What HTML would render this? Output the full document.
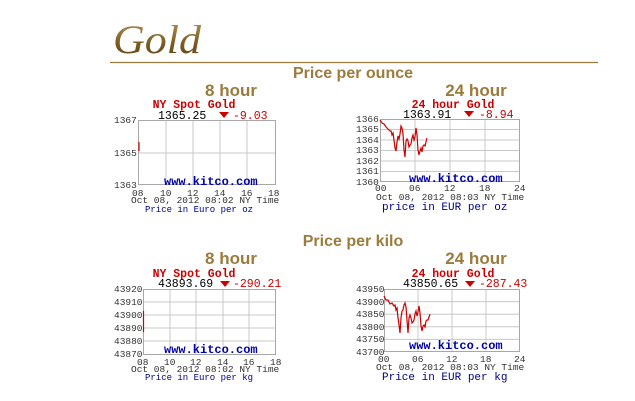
<!DOCTYPE html>
<html><head><meta charset="utf-8"><style>
html,body{margin:0;padding:0;background:#fff;width:635px;height:401px;overflow:hidden}
svg text{font-family:"Liberation Mono",monospace}
.h{font-family:"Liberation Sans",sans-serif;font-weight:bold;fill:#9b7c3c}
.t{fill:#cc0000;font-weight:bold;font-size:11.5px}
.v{fill:#000;font-size:11.5px}
.d{fill:#cc0000;font-size:11.5px}
.y{fill:#333;font-size:9.5px}
.x{fill:#333;font-size:9.5px}
.w{fill:#0000aa;font-weight:bold;font-size:12px}
.p{fill:#000088;font-size:9px}
.p2{fill:#000088;font-size:11px}
.g{stroke:#c8c8c8;stroke-width:1;fill:none}
.b{stroke:#a8a8a8;stroke-width:1;fill:none}
.s{stroke:#cc0000;stroke-width:1.2;fill:none}
</style></head><body>
<svg width="635" height="401" xmlns="http://www.w3.org/2000/svg">
<defs><linearGradient id="gg" x1="0" y1="0" x2="0" y2="1"><stop offset="0" stop-color="#b8985a"/><stop offset="0.6" stop-color="#7a5a22"/><stop offset="1" stop-color="#5a4418"/></linearGradient></defs>
<text x="113" y="53" style="font-family:'Liberation Serif',serif;font-style:italic;font-size:40px;fill:url(#gg)" textLength="88" lengthAdjust="spacingAndGlyphs">Gold</text>
<line x1="110" y1="62.5" x2="598" y2="62.5" stroke="#9b7c3c" stroke-width="1.3"/>

<text class="h" x="353" y="78" font-size="16" text-anchor="middle">Price per ounce</text>
<text class="h" x="231" y="96" font-size="17" text-anchor="middle">8 hour</text>
<text class="h" x="476" y="96" font-size="17" text-anchor="middle">24 hour</text>

<!-- chart 1 -->
<text class="t" x="194" y="108" text-anchor="middle">NY Spot Gold</text>
<text class="v" x="158" y="119">1365.25</text>
<path d="M219 112 l10 0 l-5 6z" fill="#cc0000"/>
<text class="d" x="233" y="119">-9.03</text>
<g class="g"><path d="M166 120V185M193 120V185M220 120V185M247 120V185M138 153H276"/></g>
<rect class="b" x="138.5" y="120.5" width="137" height="64"/>
<text class="y" x="114" y="123">1367</text><text class="y" x="114" y="156">1365</text><text class="y" x="114" y="188">1363</text>
<path class="s" d="M139 142V151"/>
<text class="w" x="164" y="185">www.kitco.com</text>
<g class="x"><text x="132" y="196">08</text><text x="160" y="196">10</text><text x="187" y="196">12</text><text x="214" y="196">14</text><text x="241" y="196">16</text><text x="268" y="196">18</text></g>
<text class="x" x="131" y="203">Oct 08, 2012 08:02 NY Time</text>
<text class="p" x="145" y="212">Price in Euro per oz</text>

<!-- chart 2 -->
<text class="t" x="453" y="108" text-anchor="middle">24 hour Gold</text>
<text class="v" x="403" y="118">1363.91</text>
<path d="M464 111 l10 0 l-5 6z" fill="#cc0000"/>
<text class="d" x="479" y="118">-8.94</text>
<g class="g"><path d="M415 119V182M450 119V182M485 119V182M380 129.5H520M380 140H520M380 150.5H520M380 161H520M380 171.5H520"/></g>
<rect class="b" x="380.5" y="119.5" width="139" height="62"/>
<g class="y"><text x="356" y="122">1366</text><text x="356" y="132">1365</text><text x="356" y="143">1364</text><text x="356" y="153">1363</text><text x="356" y="164">1362</text><text x="356" y="174">1361</text><text x="356" y="185">1360</text></g>
<path class="s" d="M380 120L382 123L384 124L386 127L388 129L390 131L391 131L392 135L393 133L394 140L395 148L396 151L397 142L398 136L399 139L400 134L401 126L402 128L403 134L404 150L405 157L406 141L407 139L408 141L409 147L410 145L411 144L412 138L413 135L414 140L415 137L416 128L417 135L418 150L419 155L420 151L421 148L422 152L423 146L424 145L425 146L426 142L427 138"/>
<text class="w" x="409" y="182">www.kitco.com</text>
<g class="x"><text x="375" y="191">00</text><text x="409" y="191">06</text><text x="444" y="191">12</text><text x="479" y="191">18</text><text x="514" y="191">24</text></g>
<text class="x" x="376" y="200">Oct 08, 2012 08:03 NY Time</text>
<text class="p2" x="382" y="210">price in EUR per oz</text>

<text class="h" x="353" y="246" font-size="16" text-anchor="middle">Price per kilo</text>
<text class="h" x="231" y="264" font-size="17" text-anchor="middle">8 hour</text>
<text class="h" x="476" y="264" font-size="17" text-anchor="middle">24 hour</text>

<!-- chart 3 -->
<text class="t" x="194" y="277" text-anchor="middle">NY Spot Gold</text>
<text class="v" x="158" y="287">43893.69</text>
<path d="M220 281 l10 0 l-5 6z" fill="#cc0000"/>
<text class="d" x="233" y="287">-290.21</text>
<g class="g"><path d="M170 289V354M196 289V354M223 289V354M249 289V354M143 302H276M143 315H276M143 328H276M143 341H276"/></g>
<rect class="b" x="143.5" y="289.5" width="132" height="65"/>
<g class="y"><text x="114" y="292">43920</text><text x="114" y="305">43910</text><text x="114" y="318">43900</text><text x="114" y="331">43890</text><text x="114" y="344">43880</text><text x="114" y="357">43870</text></g>
<path class="s" d="M143.5 311V332"/>
<text class="w" x="164" y="353">www.kitco.com</text>
<g class="x"><text x="137" y="365">08</text><text x="164" y="365">10</text><text x="190" y="365">12</text><text x="217" y="365">14</text><text x="243" y="365">16</text><text x="270" y="365">18</text></g>
<text class="x" x="131" y="372">Oct 08, 2012 08:02 NY Time</text>
<text class="p" x="145" y="380">Price in Euro per kg</text>

<!-- chart 4 -->
<text class="t" x="453" y="277" text-anchor="middle">24 hour Gold</text>
<text class="v" x="403" y="287">43850.65</text>
<path d="M465 281 l10 0 l-5 6z" fill="#cc0000"/>
<text class="d" x="479" y="287">-287.43</text>
<g class="g"><path d="M418 289V352M452 289V352M486 289V352M384 301.6H520M384 314.2H520M384 326.8H520M384 339.4H520"/></g>
<rect class="b" x="384.5" y="289.5" width="135" height="62"/>
<g class="y"><text x="356" y="292">43950</text><text x="356" y="305">43900</text><text x="356" y="317">43850</text><text x="356" y="330">43800</text><text x="356" y="342">43750</text><text x="356" y="355">43700</text></g>
<path class="s" d="M384 296L386 300L388 300L390 304L392 303L394 306L395 305L396 310L397 308L398 318L399 325L400 333L401 318L402 311L403 310L404 305L405 303L406 307L407 320L408 333L409 318L410 315L411 318L412 323L413 322L414 320L415 314L416 311L417 316L418 312L419 306L420 313L421 326L422 331L423 326L424 325L425 327L426 321L427 320L428 320L429 317L430 314"/>
<text class="w" x="409" y="349">www.kitco.com</text>
<g class="x"><text x="378" y="362">00</text><text x="412" y="362">06</text><text x="446" y="362">12</text><text x="480" y="362">18</text><text x="514" y="362">24</text></g>
<text class="x" x="376" y="370">Oct 08, 2012 08:03 NY Time</text>
<text class="p2" x="382" y="380">Price in EUR per kg</text>
</svg>
</body></html>
